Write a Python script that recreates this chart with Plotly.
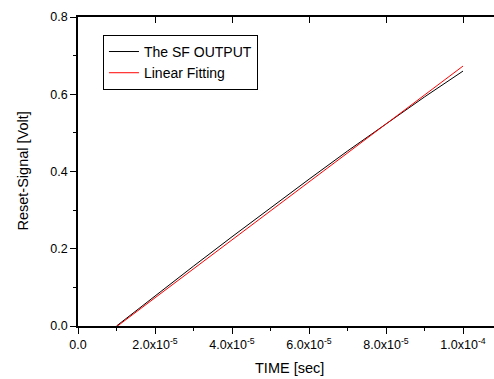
import plotly.graph_objects as go

# Data
time_sf = [1e-5, 2e-5, 3e-5, 4e-5, 5e-5, 6e-5, 7e-5, 8e-5, 9e-5, 1e-4]
sf_output = [0.000, 0.078, 0.155, 0.231, 0.306, 0.380, 0.453, 0.524, 0.593, 0.660]
time_fit = [1e-5, 1e-4]
linear_fit = [-0.002, 0.673]

x_tickvals = [0, 2e-5, 4e-5, 6e-5, 8e-5, 1e-4]
x_ticktext = ["0.0", "2.0x10<sup>-5</sup>", "4.0x10<sup>-5</sup>", "6.0x10<sup>-5</sup>",
              "8.0x10<sup>-5</sup>", "1.0x10<sup>-4</sup>"]
y_tickvals = [0.0, 0.2, 0.4, 0.6, 0.8]
y_ticktext = ["0.0", "0.2", "0.4", "0.6", "0.8"]

FONT = "Arial, Liberation Sans, sans-serif"
X_RANGE = [0, 1.0805e-4]

fig = go.Figure()
fig.add_trace(go.Scatter(x=time_sf, y=sf_output, mode="lines", name="The SF OUTPUT",
                         line=dict(color="black", width=1)))
fig.add_trace(go.Scatter(x=time_fit, y=linear_fit, mode="lines", name="Linear Fitting",
                         line=dict(color="red", width=1)))
# invisible trace to create the top axis
fig.add_trace(go.Scatter(x=time_fit, y=linear_fit, xaxis="x2", mode="lines",
                         line=dict(color="rgba(0,0,0,0)", width=0),
                         showlegend=False, hoverinfo="skip"))

fig.update_layout(
    width=494, height=379,
    margin=dict(l=78, r=0, t=17, b=53, autoexpand=False),
    paper_bgcolor="white", plot_bgcolor="white",
    font=dict(family=FONT, color="black", size=12),
    showlegend=True,
    legend=dict(x=0.06, y=0.942, xanchor="left", yanchor="top",
                bordercolor="black", borderwidth=1, bgcolor="white",
                font=dict(family=FONT, size=14, color="black"),
                tracegroupgap=0, itemwidth=30),
    xaxis=dict(range=X_RANGE, showgrid=False, zeroline=False, automargin=False,
               showline=True, linecolor="black", linewidth=1.5,
               ticks="outside", ticklen=6, tickwidth=1.2, tickcolor="black",
               tickvals=x_tickvals, ticktext=x_ticktext,
               tickfont=dict(family=FONT, size=12.5, color="black"),
               minor=dict(ticks="outside", ticklen=3, tickwidth=1, tickcolor="black",
                          dtick=1e-5, tick0=0, showgrid=False)),
    xaxis2=dict(range=X_RANGE, overlaying="x", side="top", anchor="y", automargin=False,
                showgrid=False, zeroline=False, showline=True, linecolor="black",
                linewidth=1.5, ticks="inside", ticklen=6, tickwidth=1.2,
                tickcolor="black", tickvals=x_tickvals, showticklabels=False),
    yaxis=dict(range=[0, 0.8], showgrid=False, zeroline=False, automargin=False,
               showline=True, linecolor="black", linewidth=1.5,
               ticks="outside", ticklen=6, tickwidth=1.2, tickcolor="black",
               tickvals=y_tickvals, ticktext=y_ticktext,
               tickfont=dict(family=FONT, size=12.5, color="black"),
               minor=dict(ticks="outside", ticklen=3, tickwidth=1, tickcolor="black",
                          dtick=0.1, tick0=0, showgrid=False)),
    annotations=[
        dict(text="TIME [sec]", xref="paper", yref="paper", x=0.5084, y=-0.136,
             xanchor="center", yanchor="middle", showarrow=False,
             font=dict(family=FONT, size=14.5, color="black")),
        dict(text="Reset-Signal [Volt]", xref="paper", yref="paper", x=-0.1346, y=0.5,
             xanchor="center", yanchor="middle", showarrow=False, textangle=-90,
             font=dict(family=FONT, size=14.5, color="black")),
    ],
)

fig.write_html("out.html", config={"displayModeBar": False},
               post_script="document.body.style.margin='0';document.body.style.padding='0';")
